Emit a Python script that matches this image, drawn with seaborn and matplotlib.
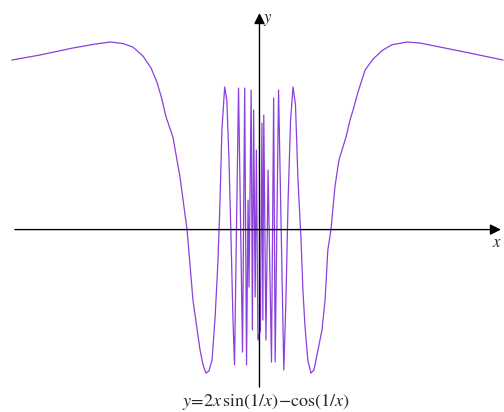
import numpy as np
import pandas as pd
import seaborn as sns
import matplotlib.pyplot as plt

sns.set_style("white")
plt.rcParams["mathtext.fontset"] = "stix"

# points, left to right
x_vals = [
    -0.804, -0.713, -0.606, -0.534, -0.485, -0.443, -0.411, -0.378, -0.352, -0.333,
    -0.317, -0.304, -0.281, -0.258, -0.235, -0.216, -0.193, -0.183, -0.174, -0.164,
    -0.154, -0.144, -0.135, -0.128, -0.122, -0.113, -0.106, -0.099, -0.093, -0.086,
    -0.081, -0.068, -0.055, -0.048, -0.042, -0.037, -0.034, -0.027, -0.023, -0.019,
    -0.014, -0.010, -0.005, 0.003, 0.008, 0.011, 0.014, 0.021, 0.028, 0.039,
    0.046, 0.051, 0.062, 0.079, 0.086, 0.093, 0.101, 0.109, 0.117, 0.125,
    0.135, 0.141, 0.148, 0.157, 0.167, 0.177, 0.190, 0.203, 0.213, 0.222,
    0.232, 0.245, 0.258, 0.281, 0.294, 0.304, 0.320, 0.343, 0.369, 0.398,
    0.430, 0.479, 0.521, 0.586, 0.683, 0.791,
]
y_vals = [
    1.207, 1.243, 1.293, 1.321, 1.336, 1.325, 1.300, 1.235, 1.150, 1.050,
    0.930, 0.805, 0.657, 0.371, -0.007, -0.507, -0.864, -0.971, -1.029, -1.014,
    -0.936, -0.629, -0.243, 0.207, 0.707, 1.014, 0.921, 0.493, -0.007, -0.650,
    -0.971, 1.007, -0.879, 1.007, -0.971, 0.207, -0.414, 0.993, -0.721, 0.850,
    -0.486, 0.564, -0.793, -0.721, 0.757, -0.650, 0.814, -0.793, 0.421, -0.950,
    0.936, -0.950, 0.993, -1.007, -0.507, 0.207, 0.779, 1.014, 0.886, 0.350,
    -0.079, -0.436, -0.700, -0.936, -1.029, -1.007, -0.864, -0.721, -0.507, -0.150,
    -0.007, 0.300, 0.493, 0.657, 0.779, 0.850, 0.979, 1.136, 1.214, 1.275,
    1.316, 1.336, 1.329, 1.300, 1.257, 1.207,
]

df = pd.DataFrame({"x": x_vals, "y": y_vals})

fig = plt.figure(figsize=(5.04, 4.12), dpi=100)
ax = fig.add_axes([0, 0, 1, 1])

sns.lineplot(data=df, x="x", y="y", sort=False, estimator=None,
             color="#8b3fdc", linewidth=0.9, ax=ax)

ax.set_xlim(-0.8425, 0.794)
ax.set_ylim(-1.307, 1.636)

# axes with arrow heads
arrow = dict(arrowstyle="-|>", color="black", lw=1.0, mutation_scale=16,
             shrinkA=0, shrinkB=0)
ax.annotate("", xy=(0.784, -0.004), xytext=(-0.794, -0.004), arrowprops=arrow)
ax.annotate("", xy=(0.0, 1.543), xytext=(0.0, -1.129), arrowprops=arrow)

ax.text(0.028, 1.50, r"$y$", fontsize=12, ha="center", va="center")
ax.text(0.772, -0.095, r"$x$", fontsize=12, ha="center", va="center")
ax.text(0.022, -1.233, r"$y\!=\!2x\,\sin(1/x)\!-\!\cos(1/x)$",
        fontsize=13, ha="center", va="center")

ax.set_xlabel("")
ax.set_ylabel("")
ax.set_xticks([])
ax.set_yticks([])
sns.despine(ax=ax, left=True, bottom=True)

plt.savefig("out.png", dpi=100)
